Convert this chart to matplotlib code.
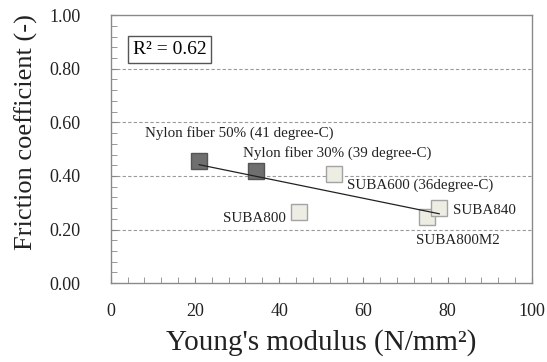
import numpy as np
import matplotlib
matplotlib.use("Agg")
import matplotlib.pyplot as plt
from matplotlib.ticker import MultipleLocator, FormatStrFormatter

plt.rcParams['font.family'] = ['Liberation Serif', 'DejaVu Serif']

# data
names = ["Nylon fiber 50% (41 degree-C)", "Nylon fiber 30% (39 degree-C)",
         "SUBA600 (36degree-C)", "SUBA800", "SUBA800M2", "SUBA840"]
modulus = [21.0, 34.4, 53.0, 44.8, 75.1, 78.0]
friction = [0.456, 0.418, 0.407, 0.267, 0.245, 0.279]
is_nylon = [True, True, False, False, False, False]

# where each label sits (data coords) and its alignment
label_xy = [(8.2, 0.56), (31.5, 0.485), (56.0, 0.366), (41.5, 0.242), (72.5, 0.16), (81.2, 0.27)]
label_ha = ['left', 'left', 'left', 'right', 'left', 'left']

fig = plt.figure(figsize=(5.47, 3.62), dpi=100)
ax = fig.add_axes([0.2024, 0.218, 0.770, 0.740])

for x, y, nyl in zip(modulus, friction, is_nylon):
    if nyl:
        ax.plot(x, y, 's', ms=11.5, mfc='#6f6f6f', mec='#555555', mew=1.0, zorder=3)
    else:
        ax.plot(x, y, 's', ms=11.5, mfc='#eeede3', mec='#a3a3a3', mew=1.0, zorder=3)

# linear trend
k, b = np.polyfit(modulus, friction, 1)
xs = np.array([min(modulus), max(modulus)])
ax.plot(xs, k * xs + b, color='#222222', lw=0.9, zorder=4)

for name, (lx, ly), ha in zip(names, label_xy, label_ha):
    ax.text(lx, ly, name, ha=ha, va='center', fontsize=10.8, color='#222222')

ax.text(0.052, 0.873, "R² = 0.62", transform=ax.transAxes, fontsize=14, va='center', ha='left',
        bbox=dict(boxstyle='square,pad=0.25', fc='white', ec='#555555', lw=1.0))

ax.set_xlim(0, 100)
ax.set_ylim(0, 1.0)
ax.xaxis.set_major_locator(MultipleLocator(20))
ax.xaxis.set_minor_locator(MultipleLocator(4))
ax.yaxis.set_major_locator(MultipleLocator(0.2))
ax.yaxis.set_minor_locator(MultipleLocator(0.04))
ax.yaxis.set_major_formatter(FormatStrFormatter('%.2f'))
ax.tick_params(which='both', direction='in', top=False, right=False, color='#888888', labelsize=13,
               labelcolor='#222222')
ax.tick_params(which='major', length=4)
ax.tick_params(which='minor', length=4)
ax.tick_params(axis='x', pad=14)
ax.tick_params(axis='y', pad=22)

for y in [0.2, 0.4, 0.6, 0.8]:
    ax.axhline(y, color='#9a9a9a', lw=0.8, ls=(0, (3, 2)), zorder=1)

for s in ax.spines.values():
    s.set_color('#8a8a8a')
    s.set_linewidth(1.0)

ax.set_xlabel("Young's modulus (N/mm²)", fontsize=21, color='#222222', labelpad=7)
ax.set_ylabel("Friction coefficient (-)", fontsize=19, color='#222222')
ax.yaxis.set_label_coords(-0.173, 0.563)

fig.savefig("out.png", dpi=100)
